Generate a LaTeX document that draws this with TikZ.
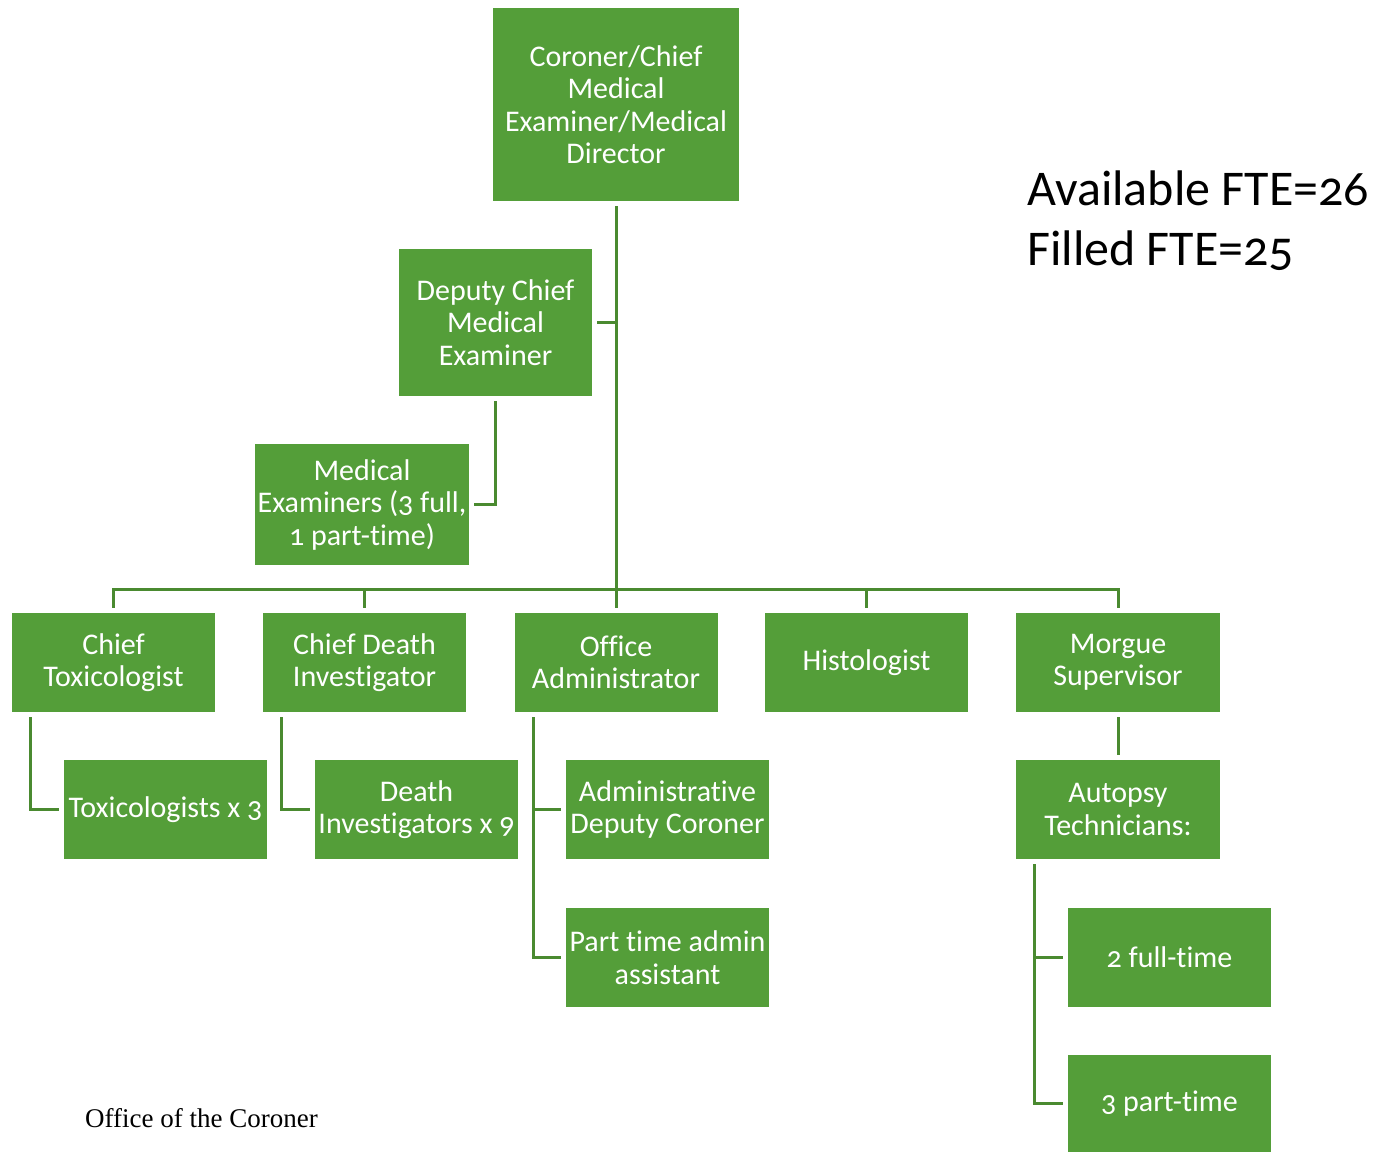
\documentclass[tikz,border=0pt]{standalone}
\usepackage{fontspec}
\setmainfont{Carlito}[Numbers=OldStyle, Ligatures=NoCommon]
\newfontfamily\timesf{Liberation Serif}
\definecolor{boxg}{HTML}{549E39}
\definecolor{lineg}{HTML}{4A8A30}
\begin{document}
\begin{tikzpicture}[x=1pt,y=-1pt,
  box/.style={fill=boxg, draw=none, text=white, align=center, inner sep=0pt,
              minimum width=203pt, minimum height=99pt,
              font=\fontsize{30}{32.5}\selectfont},
  conn/.style={draw=lineg, line width=3pt, shorten <=5pt, shorten >=5pt},
  bigtxt/.style={anchor=base west, inner sep=0pt, font=\fontsize{50}{60}\selectfont},
  captxt/.style={anchor=base west, inner sep=0pt, font=\timesf\fontsize{27}{30}\selectfont}]
\useasboundingbox (0,0) rectangle (1375,1152);

% boxes
\node[box, minimum width=246pt, minimum height=193pt] (top) at (616,104.5) {Coroner/Chief\\Medical\\Examiner/Medical\\Director};
\node[box, minimum width=193pt, minimum height=147pt] (dep) at (495.5,322.5) {Deputy Chief\\Medical\\Examiner};
\node[box, minimum width=214pt, minimum height=121pt] (me) at (362,504.5) {Medical\\Examiners (3 full,\\1 part-time)};

\node[box] (ct) at (113.5,662.5) {Chief\\Toxicologist};
\node[box] (cd) at (364.5,662.5) {Chief Death\\Investigator};
\node[box] (oa) at (616,662.5) {Office\\Administrator};
\node[box] (hi) at (866.5,662.5) {Histologist};
\node[box, minimum width=204pt] (ms) at (1118,662.5) {Morgue\\Supervisor};

\node[box] (tox) at (165.5,809.5) {Toxicologists x 3};
\node[box] (di) at (416.5,809.5) {Death\\Investigators x 9};
\node[box] (adc) at (667.5,809.5) {Administrative\\Deputy Coroner};
\node[box, minimum width=204pt] (at) at (1118,809.5) {Autopsy\\Technicians:};

\node[box] (pta) at (667.5,957.5) {Part time admin\\assistant};
\node[box] (ft) at (1169.5,957.5) {2 full-time};
\node[box, minimum height=97pt] (pt) at (1169.5,1103.5) {3 part-time};

% texts
\node[bigtxt] (fte1) at (1027,205) {Available FTE=26};
\node[bigtxt] (fte2) at (1027,265) {Filled FTE=25};
\node[captxt] (cap) at (85,1127) {Office of the Coroner};

% connectors
\coordinate (bus) at (616,589);
\draw[conn] (top) -- (oa);
\draw[conn] (ct.north) |- (bus) -| (ms.north);
\draw[conn, shorten <=0pt] (bus -| cd.north) -- (cd.north);
\draw[conn, shorten <=0pt] (bus -| hi.north) -- (hi.north);
\draw[conn, shorten >=0pt] (dep.east) -- (dep.east -| top.south);
\draw[conn] (dep.south) |- (me.east);
\draw[conn] ([xshift=19pt]ct.south west) |- (tox.west);
\draw[conn] ([xshift=19pt]cd.south west) |- (di.west);
\draw[conn] ([xshift=19pt]oa.south west) |- (adc.west);
\draw[conn] ([xshift=19pt]oa.south west) |- (pta.west);
\draw[conn] (ms) -- (at);
\draw[conn] ([xshift=19pt]at.south west) |- (ft.west);
\draw[conn] ([xshift=19pt]at.south west) |- (pt.west);
\end{tikzpicture}
\end{document}
